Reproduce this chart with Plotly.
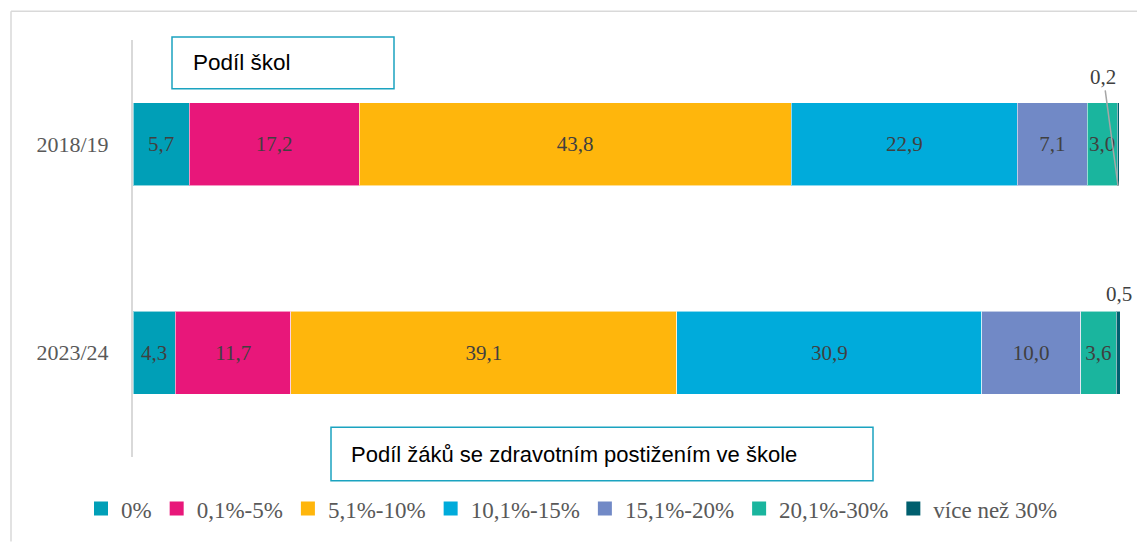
import plotly.graph_objects as go

# School years (top to bottom)
years = ["2018/19", "2023/24"]

# Share of pupils with health disability in a school – bands
bands = ["0%", "0,1%-5%", "5,1%-10%", "10,1%-15%", "15,1%-20%", "20,1%-30%", "více než 30%"]

# Share of schools (%) in each band, per school year
share_2018 = [5.7, 17.2, 43.8, 22.9, 7.1, 3.0, 0.2]
share_2023 = [4.3, 11.7, 39.1, 30.9, 10.0, 3.6, 0.5]

colors = ["#009FB7", "#E8177A", "#FFB60C", "#00ABDB", "#7189C6", "#1AB59E", "#005F6E"]

SERIF = "Liberation Serif"
LABEL_COLOR = "#404040"
AXIS_TEXT = "#595959"

W, H = 1137, 542
ML, MR, MT, MB = 133, 17, 40, 82
PW, PH = W - ML - MR, H - MT - MB


def px_x(px):
    return (px - ML) / PW


def px_y(py):
    return (H - MB - py) / PH


def fmt(v):
    return f"{v:.1f}".replace(".", ",")


series = [share_2018, share_2023]
ypos = list(range(len(years)))
small = 1.0  # segments thinner than this get an outside label

fig = go.Figure()
for i, band in enumerate(bands):
    vals = [s[i] for s in series]
    texts = [fmt(v) if v >= small else "" for v in vals]
    fig.add_trace(go.Bar(
        name=band,
        orientation="h",
        x=vals,
        y=ypos,
        width=0.4,
        marker=dict(color=colors[i], line=dict(color="rgba(255,255,255,0.55)", width=1)),
        text=texts,
        textposition="inside",
        insidetextanchor="middle",
        textangle=0,
        constraintext="none",
        textfont=dict(family=SERIF, size=21, color=LABEL_COLOR),
        hoverinfo="skip",
        showlegend=False,
    ))
    # legend entry with a larger square swatch
    fig.add_trace(go.Scatter(
        name=band, x=[None], y=[None], mode="markers",
        marker=dict(symbol="square", size=14, color=colors[i]),
        hoverinfo="skip", showlegend=True,
    ))

# Outside labels for the thinnest segments
for yi, s in enumerate(series):
    v = s[-1]
    end = sum(s)
    if yi == 0:
        fig.add_annotation(x=end - v / 2, y=yi + 0.2, ax=-13, ay=-97, axref="pixel", ayref="pixel",
                           xref="x", yref="y", text="", showarrow=True, arrowhead=0,
                           arrowwidth=1.5, arrowcolor="#A6A6A6")
        fig.add_annotation(x=end - v / 2, y=yi - 0.2, xref="x", yref="y", text=fmt(v),
                           showarrow=False, xshift=-15, yshift=26,
                           font=dict(family=SERIF, size=21, color=LABEL_COLOR))
    else:
        fig.add_annotation(x=end - v / 2, y=yi - 0.2, xref="x", yref="y", text=fmt(v),
                           showarrow=False, xshift=0, yshift=17,
                           font=dict(family=SERIF, size=21, color=LABEL_COLOR))

# Boxed captions
boxes = [
    ("Podíl škol", 172, 394, 37, 89, 191, 22.5),
    ("Podíl žáků se zdravotním postižením ve škole", 331, 873, 430, 484, 349, 22),
]
for text, x0, x1, y0, y1, tx, fs in boxes:
    fig.add_shape(type="rect", xref="paper", yref="paper",
                  x0=px_x(x0), x1=px_x(x1), y0=px_y(y1), y1=px_y(y0),
                  line=dict(color="#1BA3C0", width=1.5), fillcolor="white", layer="above")
    fig.add_annotation(xref="paper", yref="paper", x=px_x(tx), y=px_y((y0 + y1) / 2),
                       xanchor="left", yanchor="middle", text=text, showarrow=False,
                       font=dict(family="Liberation Sans", size=fs, color="#000000"))

# Outer frame (left and top edges)
fig.add_shape(type="line", xref="paper", yref="paper",
              x0=px_x(11), x1=px_x(11), y0=px_y(11), y1=px_y(545),
              line=dict(color="#D9D9D9", width=1.5))
fig.add_shape(type="line", xref="paper", yref="paper",
              x0=px_x(11), x1=px_x(1137), y0=px_y(11), y1=px_y(11),
              line=dict(color="#D9D9D9", width=1.5))

fig.update_layout(
    width=W, height=H,
    margin=dict(l=ML, r=MR, t=MT, b=MB),
    barmode="stack",
    paper_bgcolor="white",
    plot_bgcolor="white",
    showlegend=True,
    legend=dict(orientation="h", x=px_x(81), xanchor="left", y=px_y(512), yanchor="middle",
                font=dict(family=SERIF, size=23, color=AXIS_TEXT),
                itemwidth=30, traceorder="normal"),
    xaxis=dict(range=[0, 100], visible=False, fixedrange=True),
    yaxis=dict(range=[1.5, -0.5], tickvals=ypos, ticktext=years,
               showline=True, linecolor="#D9D9D9", linewidth=2,
               showgrid=False, zeroline=False, ticks="",
               ticklabelstandoff=18,
               tickfont=dict(family=SERIF, size=22, color=AXIS_TEXT)),
    uniformtext=dict(mode=False),
)

fig.write_html("out.html")
